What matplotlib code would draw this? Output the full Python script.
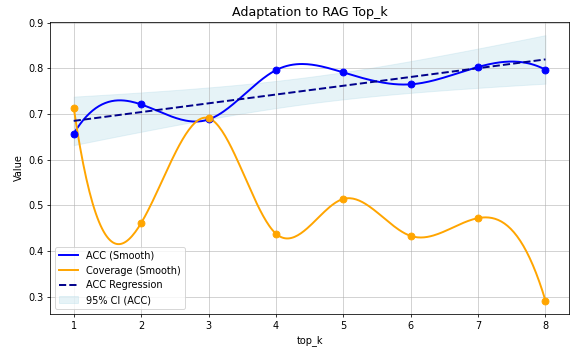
import matplotlib
matplotlib.use("Agg")
import matplotlib.pyplot as plt
import numpy as np

top_k = np.array([1, 2, 3, 4, 5, 6, 7, 8])
acc = np.array([0.657, 0.721, 0.688, 0.796, 0.791, 0.765, 0.803, 0.797])
coverage = np.array([0.714, 0.461, 0.691, 0.438, 0.514, 0.433, 0.472, 0.291])


def spline_notaknot(x, y, xs):
    # cubic interpolating spline, not-a-knot ends
    n = len(x) - 1
    A = np.zeros((4 * n, 4 * n))
    b = np.zeros(4 * n)
    r = 0
    for i in range(n):
        for xx, yy in ((x[i], y[i]), (x[i + 1], y[i + 1])):
            A[r, 4 * i:4 * i + 4] = [1, xx, xx ** 2, xx ** 3]
            b[r] = yy
            r += 1
    for i in range(n - 1):
        xx = x[i + 1]
        A[r, 4 * i:4 * i + 4] = [0, 1, 2 * xx, 3 * xx ** 2]
        A[r, 4 * i + 4:4 * i + 8] = [0, -1, -2 * xx, -3 * xx ** 2]
        r += 1
        A[r, 4 * i:4 * i + 4] = [0, 0, 2, 6 * xx]
        A[r, 4 * i + 4:4 * i + 8] = [0, 0, -2, -6 * xx]
        r += 1
    for i in (0, n - 2):
        A[r, 4 * i + 3] = 1
        A[r, 4 * i + 7] = -1
        r += 1
    c = np.linalg.solve(A, b).reshape(n, 4)
    idx = np.clip(np.searchsorted(x, xs) - 1, 0, n - 1)
    cc = c[idx]
    return cc[:, 0] + cc[:, 1] * xs + cc[:, 2] * xs ** 2 + cc[:, 3] * xs ** 3


xs = np.linspace(top_k.min(), top_k.max(), 300)
acc_s = spline_notaknot(top_k.astype(float), acc, xs)
cov_s = spline_notaknot(top_k.astype(float), coverage, xs)

# linear regression + 95% CI
n = len(top_k)
slope, intercept = np.polyfit(top_k, acc, 1)
pred = intercept + slope * top_k
s = np.sqrt(np.sum((acc - pred) ** 2) / (n - 2))
sxx = np.sum((top_k - top_k.mean()) ** 2)
t_val = 2.447  # t(0.975, df=6)
xr = np.linspace(top_k.min(), top_k.max(), 100)
yr = intercept + slope * xr
se = s * np.sqrt(1 / n + (xr - top_k.mean()) ** 2 / sxx)

fig, ax = plt.subplots(figsize=(576 / 70, 347 / 70), dpi=70)
ax.plot(xs, acc_s, color='blue', linewidth=2, label='ACC (Smooth)')
ax.plot(xs, cov_s, color='orange', linewidth=2, label='Coverage (Smooth)')
ax.scatter(top_k, acc, color='blue', s=50, zorder=3)
ax.scatter(top_k, coverage, color='orange', s=50, zorder=3)
ax.plot(xr, yr, '--', color='darkblue', linewidth=2, label='ACC Regression')
ax.fill_between(xr, yr - t_val * se, yr + t_val * se, color='lightblue', alpha=0.3, label='95% CI (ACC)')
ax.set_title('Adaptation to RAG Top_k', fontsize=13)
ax.set_xlabel('top_k')
ax.set_ylabel('Value')
ax.set_xticks(top_k)
ax.grid(True, alpha=0.7)
ax.legend(loc='lower left')
fig.subplots_adjust(left=0.087, right=0.988, top=0.937, bottom=0.095)
fig.savefig('out.png')
